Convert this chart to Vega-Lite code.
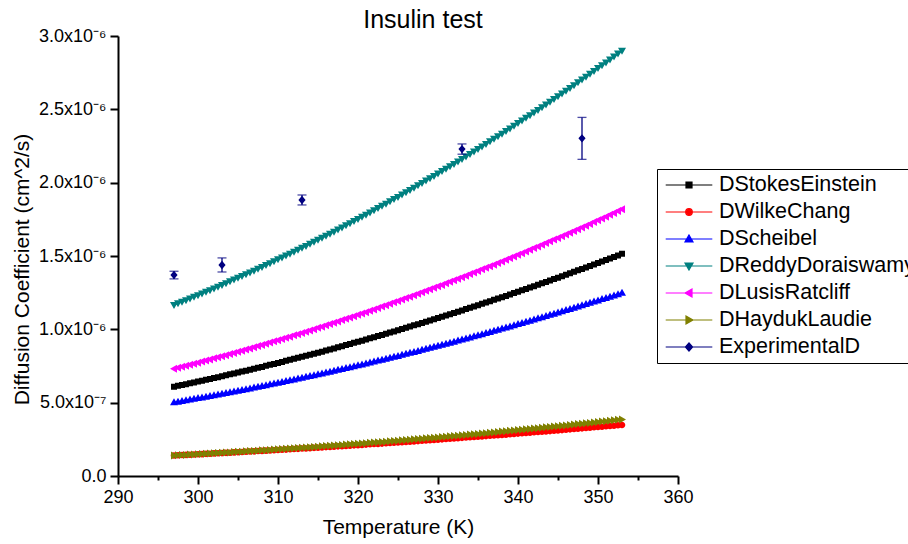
{
"$schema": "https://vega.github.io/schema/vega-lite/v6.json",
"width": 560, "height": 440,
"autosize": {"type": "none"},
"padding": {"left": 118, "top": 36, "right": 230, "bottom": 68},
"background": "white",
"title": {"text": "Insulin test", "frame": "group", "anchor": "middle", "dx": 25, "offset": -6, "fontSize": 25, "font": "Liberation Sans", "fontWeight": "normal", "color": "black"},
"datasets": {
"curves": [
{"T":297,"SE":0.609e-6,"WC":0.140e-6,"SC":0.502e-6,"RD":1.166e-6,"LR":0.731e-6,"HL":0.140e-6},
{"T":297.5,"SE":0.615e-6,"WC":0.141e-6,"SC":0.507e-6,"RD":1.177e-6,"LR":0.738e-6,"HL":0.141e-6},
{"T":298,"SE":0.620e-6,"WC":0.143e-6,"SC":0.511e-6,"RD":1.188e-6,"LR":0.745e-6,"HL":0.143e-6},
{"T":298.5,"SE":0.626e-6,"WC":0.144e-6,"SC":0.516e-6,"RD":1.199e-6,"LR":0.752e-6,"HL":0.144e-6},
{"T":299,"SE":0.632e-6,"WC":0.145e-6,"SC":0.521e-6,"RD":1.210e-6,"LR":0.759e-6,"HL":0.146e-6},
{"T":299.5,"SE":0.638e-6,"WC":0.147e-6,"SC":0.526e-6,"RD":1.222e-6,"LR":0.766e-6,"HL":0.147e-6},
{"T":300,"SE":0.644e-6,"WC":0.148e-6,"SC":0.531e-6,"RD":1.233e-6,"LR":0.773e-6,"HL":0.149e-6},
{"T":300.5,"SE":0.650e-6,"WC":0.149e-6,"SC":0.536e-6,"RD":1.244e-6,"LR":0.780e-6,"HL":0.150e-6},
{"T":301,"SE":0.656e-6,"WC":0.151e-6,"SC":0.541e-6,"RD":1.256e-6,"LR":0.787e-6,"HL":0.152e-6},
{"T":301.5,"SE":0.662e-6,"WC":0.152e-6,"SC":0.546e-6,"RD":1.267e-6,"LR":0.795e-6,"HL":0.154e-6},
{"T":302,"SE":0.668e-6,"WC":0.154e-6,"SC":0.551e-6,"RD":1.279e-6,"LR":0.802e-6,"HL":0.155e-6},
{"T":302.5,"SE":0.674e-6,"WC":0.155e-6,"SC":0.556e-6,"RD":1.291e-6,"LR":0.809e-6,"HL":0.157e-6},
{"T":303,"SE":0.680e-6,"WC":0.156e-6,"SC":0.561e-6,"RD":1.303e-6,"LR":0.817e-6,"HL":0.158e-6},
{"T":303.5,"SE":0.687e-6,"WC":0.158e-6,"SC":0.566e-6,"RD":1.315e-6,"LR":0.824e-6,"HL":0.160e-6},
{"T":304,"SE":0.693e-6,"WC":0.159e-6,"SC":0.571e-6,"RD":1.327e-6,"LR":0.832e-6,"HL":0.161e-6},
{"T":304.5,"SE":0.699e-6,"WC":0.161e-6,"SC":0.576e-6,"RD":1.339e-6,"LR":0.839e-6,"HL":0.163e-6},
{"T":305,"SE":0.705e-6,"WC":0.162e-6,"SC":0.582e-6,"RD":1.351e-6,"LR":0.847e-6,"HL":0.165e-6},
{"T":305.5,"SE":0.712e-6,"WC":0.164e-6,"SC":0.587e-6,"RD":1.363e-6,"LR":0.854e-6,"HL":0.166e-6},
{"T":306,"SE":0.718e-6,"WC":0.165e-6,"SC":0.592e-6,"RD":1.375e-6,"LR":0.862e-6,"HL":0.168e-6},
{"T":306.5,"SE":0.725e-6,"WC":0.167e-6,"SC":0.597e-6,"RD":1.388e-6,"LR":0.870e-6,"HL":0.170e-6},
{"T":307,"SE":0.731e-6,"WC":0.168e-6,"SC":0.603e-6,"RD":1.400e-6,"LR":0.878e-6,"HL":0.171e-6},
{"T":307.5,"SE":0.738e-6,"WC":0.170e-6,"SC":0.608e-6,"RD":1.413e-6,"LR":0.886e-6,"HL":0.173e-6},
{"T":308,"SE":0.744e-6,"WC":0.171e-6,"SC":0.614e-6,"RD":1.425e-6,"LR":0.894e-6,"HL":0.175e-6},
{"T":308.5,"SE":0.751e-6,"WC":0.173e-6,"SC":0.619e-6,"RD":1.438e-6,"LR":0.901e-6,"HL":0.176e-6},
{"T":309,"SE":0.758e-6,"WC":0.174e-6,"SC":0.625e-6,"RD":1.451e-6,"LR":0.910e-6,"HL":0.178e-6},
{"T":309.5,"SE":0.764e-6,"WC":0.176e-6,"SC":0.630e-6,"RD":1.464e-6,"LR":0.918e-6,"HL":0.180e-6},
{"T":310,"SE":0.771e-6,"WC":0.177e-6,"SC":0.636e-6,"RD":1.477e-6,"LR":0.926e-6,"HL":0.182e-6},
{"T":310.5,"SE":0.778e-6,"WC":0.179e-6,"SC":0.641e-6,"RD":1.490e-6,"LR":0.934e-6,"HL":0.184e-6},
{"T":311,"SE":0.785e-6,"WC":0.180e-6,"SC":0.647e-6,"RD":1.503e-6,"LR":0.942e-6,"HL":0.185e-6},
{"T":311.5,"SE":0.792e-6,"WC":0.182e-6,"SC":0.653e-6,"RD":1.516e-6,"LR":0.950e-6,"HL":0.187e-6},
{"T":312,"SE":0.799e-6,"WC":0.184e-6,"SC":0.658e-6,"RD":1.529e-6,"LR":0.959e-6,"HL":0.189e-6},
{"T":312.5,"SE":0.806e-6,"WC":0.185e-6,"SC":0.664e-6,"RD":1.542e-6,"LR":0.967e-6,"HL":0.191e-6},
{"T":313,"SE":0.813e-6,"WC":0.187e-6,"SC":0.670e-6,"RD":1.556e-6,"LR":0.975e-6,"HL":0.193e-6},
{"T":313.5,"SE":0.820e-6,"WC":0.188e-6,"SC":0.676e-6,"RD":1.569e-6,"LR":0.984e-6,"HL":0.194e-6},
{"T":314,"SE":0.827e-6,"WC":0.190e-6,"SC":0.682e-6,"RD":1.583e-6,"LR":0.992e-6,"HL":0.196e-6},
{"T":314.5,"SE":0.834e-6,"WC":0.192e-6,"SC":0.687e-6,"RD":1.597e-6,"LR":1.001e-6,"HL":0.198e-6},
{"T":315,"SE":0.841e-6,"WC":0.193e-6,"SC":0.693e-6,"RD":1.610e-6,"LR":1.010e-6,"HL":0.200e-6},
{"T":315.5,"SE":0.848e-6,"WC":0.195e-6,"SC":0.699e-6,"RD":1.624e-6,"LR":1.018e-6,"HL":0.202e-6},
{"T":316,"SE":0.856e-6,"WC":0.197e-6,"SC":0.705e-6,"RD":1.638e-6,"LR":1.027e-6,"HL":0.204e-6},
{"T":316.5,"SE":0.863e-6,"WC":0.198e-6,"SC":0.711e-6,"RD":1.652e-6,"LR":1.036e-6,"HL":0.206e-6},
{"T":317,"SE":0.870e-6,"WC":0.200e-6,"SC":0.717e-6,"RD":1.666e-6,"LR":1.045e-6,"HL":0.208e-6},
{"T":317.5,"SE":0.878e-6,"WC":0.202e-6,"SC":0.724e-6,"RD":1.681e-6,"LR":1.054e-6,"HL":0.210e-6},
{"T":318,"SE":0.885e-6,"WC":0.203e-6,"SC":0.730e-6,"RD":1.695e-6,"LR":1.063e-6,"HL":0.212e-6},
{"T":318.5,"SE":0.893e-6,"WC":0.205e-6,"SC":0.736e-6,"RD":1.709e-6,"LR":1.072e-6,"HL":0.214e-6},
{"T":319,"SE":0.900e-6,"WC":0.207e-6,"SC":0.742e-6,"RD":1.724e-6,"LR":1.081e-6,"HL":0.216e-6},
{"T":319.5,"SE":0.908e-6,"WC":0.209e-6,"SC":0.748e-6,"RD":1.738e-6,"LR":1.090e-6,"HL":0.218e-6},
{"T":320,"SE":0.915e-6,"WC":0.210e-6,"SC":0.755e-6,"RD":1.753e-6,"LR":1.099e-6,"HL":0.220e-6},
{"T":320.5,"SE":0.923e-6,"WC":0.212e-6,"SC":0.761e-6,"RD":1.767e-6,"LR":1.108e-6,"HL":0.222e-6},
{"T":321,"SE":0.931e-6,"WC":0.214e-6,"SC":0.767e-6,"RD":1.782e-6,"LR":1.117e-6,"HL":0.224e-6},
{"T":321.5,"SE":0.939e-6,"WC":0.216e-6,"SC":0.774e-6,"RD":1.797e-6,"LR":1.127e-6,"HL":0.226e-6},
{"T":322,"SE":0.946e-6,"WC":0.218e-6,"SC":0.780e-6,"RD":1.812e-6,"LR":1.136e-6,"HL":0.228e-6},
{"T":322.5,"SE":0.954e-6,"WC":0.219e-6,"SC":0.787e-6,"RD":1.827e-6,"LR":1.145e-6,"HL":0.230e-6},
{"T":323,"SE":0.962e-6,"WC":0.221e-6,"SC":0.793e-6,"RD":1.842e-6,"LR":1.155e-6,"HL":0.232e-6},
{"T":323.5,"SE":0.970e-6,"WC":0.223e-6,"SC":0.800e-6,"RD":1.857e-6,"LR":1.164e-6,"HL":0.234e-6},
{"T":324,"SE":0.978e-6,"WC":0.225e-6,"SC":0.806e-6,"RD":1.873e-6,"LR":1.174e-6,"HL":0.237e-6},
{"T":324.5,"SE":0.986e-6,"WC":0.227e-6,"SC":0.813e-6,"RD":1.888e-6,"LR":1.184e-6,"HL":0.239e-6},
{"T":325,"SE":0.994e-6,"WC":0.229e-6,"SC":0.819e-6,"RD":1.903e-6,"LR":1.193e-6,"HL":0.241e-6},
{"T":325.5,"SE":1.002e-6,"WC":0.230e-6,"SC":0.826e-6,"RD":1.919e-6,"LR":1.203e-6,"HL":0.243e-6},
{"T":326,"SE":1.010e-6,"WC":0.232e-6,"SC":0.833e-6,"RD":1.935e-6,"LR":1.213e-6,"HL":0.245e-6},
{"T":326.5,"SE":1.019e-6,"WC":0.234e-6,"SC":0.840e-6,"RD":1.950e-6,"LR":1.223e-6,"HL":0.248e-6},
{"T":327,"SE":1.027e-6,"WC":0.236e-6,"SC":0.846e-6,"RD":1.966e-6,"LR":1.233e-6,"HL":0.250e-6},
{"T":327.5,"SE":1.035e-6,"WC":0.238e-6,"SC":0.853e-6,"RD":1.982e-6,"LR":1.242e-6,"HL":0.252e-6},
{"T":328,"SE":1.043e-6,"WC":0.240e-6,"SC":0.860e-6,"RD":1.998e-6,"LR":1.252e-6,"HL":0.254e-6},
{"T":328.5,"SE":1.052e-6,"WC":0.242e-6,"SC":0.867e-6,"RD":2.014e-6,"LR":1.263e-6,"HL":0.257e-6},
{"T":329,"SE":1.060e-6,"WC":0.244e-6,"SC":0.874e-6,"RD":2.030e-6,"LR":1.273e-6,"HL":0.259e-6},
{"T":329.5,"SE":1.069e-6,"WC":0.246e-6,"SC":0.881e-6,"RD":2.046e-6,"LR":1.283e-6,"HL":0.261e-6},
{"T":330,"SE":1.077e-6,"WC":0.248e-6,"SC":0.888e-6,"RD":2.062e-6,"LR":1.293e-6,"HL":0.263e-6},
{"T":330.5,"SE":1.086e-6,"WC":0.250e-6,"SC":0.895e-6,"RD":2.079e-6,"LR":1.303e-6,"HL":0.266e-6},
{"T":331,"SE":1.094e-6,"WC":0.252e-6,"SC":0.902e-6,"RD":2.095e-6,"LR":1.314e-6,"HL":0.268e-6},
{"T":331.5,"SE":1.103e-6,"WC":0.254e-6,"SC":0.909e-6,"RD":2.112e-6,"LR":1.324e-6,"HL":0.271e-6},
{"T":332,"SE":1.112e-6,"WC":0.256e-6,"SC":0.916e-6,"RD":2.128e-6,"LR":1.334e-6,"HL":0.273e-6},
{"T":332.5,"SE":1.120e-6,"WC":0.258e-6,"SC":0.924e-6,"RD":2.145e-6,"LR":1.345e-6,"HL":0.275e-6},
{"T":333,"SE":1.129e-6,"WC":0.260e-6,"SC":0.931e-6,"RD":2.162e-6,"LR":1.355e-6,"HL":0.278e-6},
{"T":333.5,"SE":1.138e-6,"WC":0.262e-6,"SC":0.938e-6,"RD":2.179e-6,"LR":1.366e-6,"HL":0.280e-6},
{"T":334,"SE":1.147e-6,"WC":0.264e-6,"SC":0.945e-6,"RD":2.196e-6,"LR":1.377e-6,"HL":0.283e-6},
{"T":334.5,"SE":1.156e-6,"WC":0.266e-6,"SC":0.953e-6,"RD":2.213e-6,"LR":1.387e-6,"HL":0.285e-6},
{"T":335,"SE":1.165e-6,"WC":0.268e-6,"SC":0.960e-6,"RD":2.230e-6,"LR":1.398e-6,"HL":0.287e-6},
{"T":335.5,"SE":1.174e-6,"WC":0.270e-6,"SC":0.967e-6,"RD":2.247e-6,"LR":1.409e-6,"HL":0.290e-6},
{"T":336,"SE":1.183e-6,"WC":0.272e-6,"SC":0.975e-6,"RD":2.264e-6,"LR":1.420e-6,"HL":0.292e-6},
{"T":336.5,"SE":1.192e-6,"WC":0.274e-6,"SC":0.982e-6,"RD":2.282e-6,"LR":1.430e-6,"HL":0.295e-6},
{"T":337,"SE":1.201e-6,"WC":0.276e-6,"SC":0.990e-6,"RD":2.299e-6,"LR":1.441e-6,"HL":0.297e-6},
{"T":337.5,"SE":1.210e-6,"WC":0.278e-6,"SC":0.997e-6,"RD":2.317e-6,"LR":1.452e-6,"HL":0.300e-6},
{"T":338,"SE":1.219e-6,"WC":0.280e-6,"SC":1.005e-6,"RD":2.334e-6,"LR":1.463e-6,"HL":0.303e-6},
{"T":338.5,"SE":1.228e-6,"WC":0.282e-6,"SC":1.013e-6,"RD":2.352e-6,"LR":1.475e-6,"HL":0.305e-6},
{"T":339,"SE":1.238e-6,"WC":0.285e-6,"SC":1.020e-6,"RD":2.370e-6,"LR":1.486e-6,"HL":0.308e-6},
{"T":339.5,"SE":1.247e-6,"WC":0.287e-6,"SC":1.028e-6,"RD":2.388e-6,"LR":1.497e-6,"HL":0.310e-6},
{"T":340,"SE":1.256e-6,"WC":0.289e-6,"SC":1.036e-6,"RD":2.406e-6,"LR":1.508e-6,"HL":0.313e-6},
{"T":340.5,"SE":1.266e-6,"WC":0.291e-6,"SC":1.043e-6,"RD":2.424e-6,"LR":1.519e-6,"HL":0.316e-6},
{"T":341,"SE":1.275e-6,"WC":0.293e-6,"SC":1.051e-6,"RD":2.442e-6,"LR":1.531e-6,"HL":0.318e-6},
{"T":341.5,"SE":1.285e-6,"WC":0.295e-6,"SC":1.059e-6,"RD":2.460e-6,"LR":1.542e-6,"HL":0.321e-6},
{"T":342,"SE":1.294e-6,"WC":0.298e-6,"SC":1.067e-6,"RD":2.478e-6,"LR":1.554e-6,"HL":0.324e-6},
{"T":342.5,"SE":1.304e-6,"WC":0.300e-6,"SC":1.075e-6,"RD":2.496e-6,"LR":1.565e-6,"HL":0.326e-6},
{"T":343,"SE":1.314e-6,"WC":0.302e-6,"SC":1.083e-6,"RD":2.515e-6,"LR":1.577e-6,"HL":0.329e-6},
{"T":343.5,"SE":1.323e-6,"WC":0.304e-6,"SC":1.091e-6,"RD":2.533e-6,"LR":1.588e-6,"HL":0.332e-6},
{"T":344,"SE":1.333e-6,"WC":0.306e-6,"SC":1.099e-6,"RD":2.552e-6,"LR":1.600e-6,"HL":0.334e-6},
{"T":344.5,"SE":1.343e-6,"WC":0.309e-6,"SC":1.107e-6,"RD":2.571e-6,"LR":1.612e-6,"HL":0.337e-6},
{"T":345,"SE":1.352e-6,"WC":0.311e-6,"SC":1.115e-6,"RD":2.589e-6,"LR":1.623e-6,"HL":0.340e-6},
{"T":345.5,"SE":1.362e-6,"WC":0.313e-6,"SC":1.123e-6,"RD":2.608e-6,"LR":1.635e-6,"HL":0.343e-6},
{"T":346,"SE":1.372e-6,"WC":0.315e-6,"SC":1.131e-6,"RD":2.627e-6,"LR":1.647e-6,"HL":0.345e-6},
{"T":346.5,"SE":1.382e-6,"WC":0.318e-6,"SC":1.139e-6,"RD":2.646e-6,"LR":1.659e-6,"HL":0.348e-6},
{"T":347,"SE":1.392e-6,"WC":0.320e-6,"SC":1.147e-6,"RD":2.665e-6,"LR":1.671e-6,"HL":0.351e-6},
{"T":347.5,"SE":1.402e-6,"WC":0.322e-6,"SC":1.156e-6,"RD":2.684e-6,"LR":1.683e-6,"HL":0.354e-6},
{"T":348,"SE":1.412e-6,"WC":0.325e-6,"SC":1.164e-6,"RD":2.704e-6,"LR":1.695e-6,"HL":0.357e-6},
{"T":348.5,"SE":1.422e-6,"WC":0.327e-6,"SC":1.172e-6,"RD":2.723e-6,"LR":1.707e-6,"HL":0.360e-6},
{"T":349,"SE":1.432e-6,"WC":0.329e-6,"SC":1.181e-6,"RD":2.742e-6,"LR":1.719e-6,"HL":0.362e-6},
{"T":349.5,"SE":1.442e-6,"WC":0.332e-6,"SC":1.189e-6,"RD":2.762e-6,"LR":1.731e-6,"HL":0.365e-6},
{"T":350,"SE":1.453e-6,"WC":0.334e-6,"SC":1.197e-6,"RD":2.781e-6,"LR":1.744e-6,"HL":0.368e-6},
{"T":350.5,"SE":1.463e-6,"WC":0.336e-6,"SC":1.206e-6,"RD":2.801e-6,"LR":1.756e-6,"HL":0.371e-6},
{"T":351,"SE":1.473e-6,"WC":0.339e-6,"SC":1.214e-6,"RD":2.820e-6,"LR":1.768e-6,"HL":0.374e-6},
{"T":351.5,"SE":1.483e-6,"WC":0.341e-6,"SC":1.223e-6,"RD":2.840e-6,"LR":1.781e-6,"HL":0.377e-6},
{"T":352,"SE":1.494e-6,"WC":0.343e-6,"SC":1.231e-6,"RD":2.860e-6,"LR":1.793e-6,"HL":0.380e-6},
{"T":352.5,"SE":1.504e-6,"WC":0.346e-6,"SC":1.240e-6,"RD":2.880e-6,"LR":1.806e-6,"HL":0.383e-6},
{"T":353,"SE":1.515e-6,"WC":0.348e-6,"SC":1.249e-6,"RD":2.900e-6,"LR":1.818e-6,"HL":0.386e-6}
],
"exp": [
{"T":297,"D":1.370e-6,"err":0.026e-6},
{"T":303,"D":1.439e-6,"err":0.048e-6},
{"T":313,"D":1.882e-6,"err":0.034e-6},
{"T":333,"D":2.229e-6,"err":0.035e-6},
{"T":348,"D":2.302e-6,"err":0.143e-6}
]
},
"data": {"name": "curves"},
"encoding": {
"x": {"field": "T", "type": "quantitative", "title": "Temperature (K)",
 "scale": {"domain": [290, 360], "nice": false, "zero": false},
 "axis": {"values": [290,295,300,305,310,315,320,325,330,335,340,345,350,355,360],
  "labelExpr": "datum.value % 10 == 0 ? datum.value : ''",
  "tickSize": {"condition": {"test": "datum.value % 10 == 0", "value": 8}, "value": 4},
  "labelPadding": 4, "titlePadding": 10}}
},
"layer": [
{"mark": {"type": "line", "color": "#000000", "strokeWidth": 1.5},
 "encoding": {"y": {"field": "SE", "type": "quantitative", "title": "Diffusion Coefficient (cm^2/s)",
  "scale": {"domain": [0, 3e-6], "nice": false, "zero": true},
  "axis": {"values": [0,2.5e-7,5e-7,7.5e-7,1e-6,1.25e-6,1.5e-6,1.75e-6,2e-6,2.25e-6,2.5e-6,2.75e-6,3e-6],
   "labelExpr": "round(datum.value*1e8) == 0 ? '0.0' : (round(datum.value*1e8) % 50 != 0 ? '' : (round(datum.value*1e8) == 50 ? '5.0x10⁻⁷' : format(datum.value*1e6, '.1f') + 'x10⁻⁶'))",
   "tickSize": {"condition": {"test": "round(datum.value*1e8) % 50 == 0", "value": 8}, "value": 4},
   "labelPadding": 4, "titleAngle": 270, "titleAlign": "center", "titleBaseline": "alphabetic", "titleX": -90, "titleY": 233}}}},
{"mark": {"type": "point", "filled": true, "size": 400, "opacity": 1},
 "encoding": {"y": {"field": "SE", "type": "quantitative", "title": "Diffusion Coefficient (cm^2/s)"},
  "strokeWidth": {"value": 0},
  "color": {"datum": "DStokesEinstein", "title": null,
   "scale": {"domain": ["DStokesEinstein","DWilkeChang","DScheibel","DReddyDoraiswamy","DLusisRatcliff","DHaydukLaudie","ExperimentalD"],
    "range": ["#000000","#FF0000","#0000FF","#008080","#FF00FF","#808000","#000080"]},
   "legend": {"title": null}},
  "stroke": {"datum": "DStokesEinstein", "title": null,
   "scale": {"domain": ["DStokesEinstein","DWilkeChang","DScheibel","DReddyDoraiswamy","DLusisRatcliff","DHaydukLaudie","ExperimentalD"],
    "range": ["#000000","#FF0000","#0000FF","#008080","#FF00FF","#808000","#000080"]},
   "legend": {"title": null}},
  "shape": {"datum": "DStokesEinstein", "title": null,
   "scale": {"domain": ["DStokesEinstein","DWilkeChang","DScheibel","DReddyDoraiswamy","DLusisRatcliff","DHaydukLaudie","ExperimentalD"],
    "range": ["M-2.33,0H2.33M-0.3,-0.3H0.3V0.3H-0.3Z",
     "M-2.33,0H2.33M-0.33,0A0.33,0.33,0,1,1,0.33,0A0.33,0.33,0,1,1,-0.33,0Z",
     "M-2.33,0H2.33M0,-0.4L0.4,0.3H-0.4Z",
     "M-2.33,0H2.33M0,0.4L0.4,-0.3H-0.4Z",
     "M-2.33,0H2.33M-0.4,0L0.3,-0.4V0.4Z",
     "M-2.33,0H2.33M0.4,0L-0.3,-0.4V0.4Z",
     "M-2.33,0H2.33M0,-0.42L0.36,0L0,0.42L-0.36,0Z"]},
   "legend": {"title": null}}}},
{"mark": {"type": "line", "color": "#FF0000", "strokeWidth": 1.5},
 "encoding": {"y": {"field": "WC", "type": "quantitative", "title": "Diffusion Coefficient (cm^2/s)"}}},
{"mark": {"type": "point", "filled": true, "size": 400, "opacity": 1},
 "encoding": {"y": {"field": "WC", "type": "quantitative", "title": "Diffusion Coefficient (cm^2/s)"},
  "strokeWidth": {"value": 0},
  "color": {"datum": "DWilkeChang"}, "stroke": {"datum": "DWilkeChang"}, "shape": {"datum": "DWilkeChang"}}},
{"mark": {"type": "line", "color": "#0000FF", "strokeWidth": 1.5},
 "encoding": {"y": {"field": "SC", "type": "quantitative", "title": "Diffusion Coefficient (cm^2/s)"}}},
{"mark": {"type": "point", "filled": true, "size": 400, "opacity": 1},
 "encoding": {"y": {"field": "SC", "type": "quantitative", "title": "Diffusion Coefficient (cm^2/s)"},
  "strokeWidth": {"value": 0},
  "color": {"datum": "DScheibel"}, "stroke": {"datum": "DScheibel"}, "shape": {"datum": "DScheibel"}}},
{"mark": {"type": "line", "color": "#008080", "strokeWidth": 1.5},
 "encoding": {"y": {"field": "RD", "type": "quantitative", "title": "Diffusion Coefficient (cm^2/s)"}}},
{"mark": {"type": "point", "filled": true, "size": 400, "opacity": 1},
 "encoding": {"y": {"field": "RD", "type": "quantitative", "title": "Diffusion Coefficient (cm^2/s)"},
  "strokeWidth": {"value": 0},
  "color": {"datum": "DReddyDoraiswamy"}, "stroke": {"datum": "DReddyDoraiswamy"}, "shape": {"datum": "DReddyDoraiswamy"}}},
{"mark": {"type": "line", "color": "#FF00FF", "strokeWidth": 1.5},
 "encoding": {"y": {"field": "LR", "type": "quantitative", "title": "Diffusion Coefficient (cm^2/s)"}}},
{"mark": {"type": "point", "filled": true, "size": 400, "opacity": 1},
 "encoding": {"y": {"field": "LR", "type": "quantitative", "title": "Diffusion Coefficient (cm^2/s)"},
  "strokeWidth": {"value": 0},
  "color": {"datum": "DLusisRatcliff"}, "stroke": {"datum": "DLusisRatcliff"}, "shape": {"datum": "DLusisRatcliff"}}},
{"mark": {"type": "line", "color": "#808000", "strokeWidth": 1.5},
 "encoding": {"y": {"field": "HL", "type": "quantitative", "title": "Diffusion Coefficient (cm^2/s)"}}},
{"mark": {"type": "point", "filled": true, "size": 400, "opacity": 1},
 "encoding": {"y": {"field": "HL", "type": "quantitative", "title": "Diffusion Coefficient (cm^2/s)"},
  "strokeWidth": {"value": 0},
  "color": {"datum": "DHaydukLaudie"}, "stroke": {"datum": "DHaydukLaudie"}, "shape": {"datum": "DHaydukLaudie"}}},
{"data": {"name": "exp"},
 "mark": {"type": "errorbar", "color": "#000080", "thickness": 1.3, "ticks": {"size": 9, "thickness": 1.3, "color": "#000080"}},
 "encoding": {"y": {"field": "D", "type": "quantitative", "title": "Diffusion Coefficient (cm^2/s)"}, "yError": {"field": "err"}}},
{"data": {"name": "exp"},
 "mark": {"type": "point", "filled": true, "size": 400, "opacity": 1},
 "encoding": {"y": {"field": "D", "type": "quantitative", "title": "Diffusion Coefficient (cm^2/s)"},
  "strokeWidth": {"value": 0},
  "color": {"datum": "ExperimentalD"}, "stroke": {"datum": "ExperimentalD"}, "shape": {"datum": "ExperimentalD"}}}
],
"config": {
 "view": {"stroke": null},
 "font": "Liberation Sans",
 "axis": {"domainColor": "#000000", "domainWidth": 2, "tickColor": "#000000", "tickWidth": 2,
  "labelFont": "Liberation Sans", "labelFontSize": 18, "labelColor": "#000000",
  "titleFont": "Liberation Sans", "titleFontSize": 21, "titleFontWeight": "normal", "titleColor": "#000000",
  "grid": false, "labelOverlap": false, "labelFlush": false, "labelBound": false},
 "legend": {"orient": "none", "legendX": 539, "legendY": 133, "padding": 5, "symbolOffset": 16, "labelOffset": 19,
  "rowPadding": 5, "strokeColor": "#000000", "labelFont": "Liberation Sans", "labelFontSize": 21.5, "labelColor": "#000000",
  "symbolSize": 400, "labelLimit": 500, "symbolStrokeWidth": 1.2}
}
}
